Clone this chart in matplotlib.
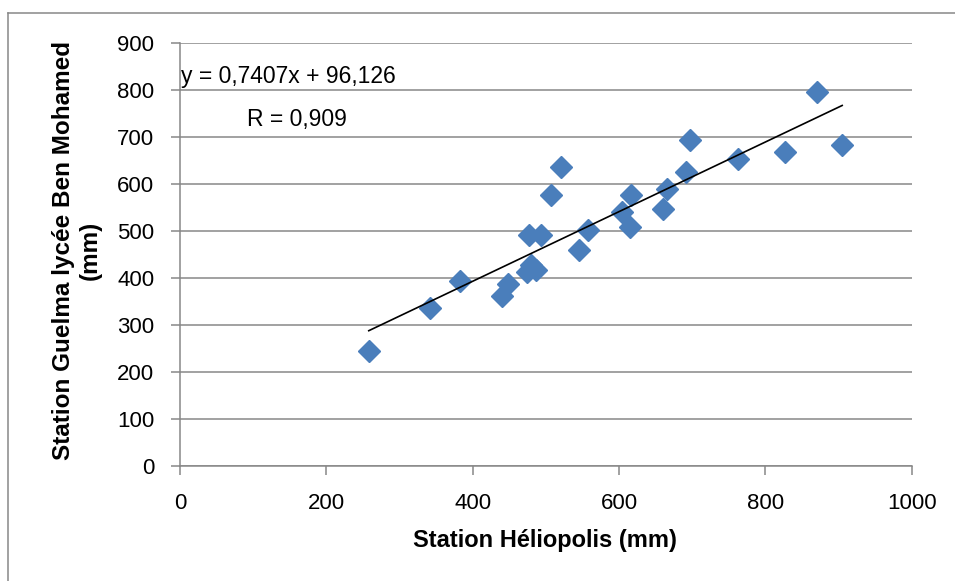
import numpy as np
import matplotlib.pyplot as plt
from matplotlib.lines import Line2D

plt.rcParams['font.family'] = ['Liberation Sans', 'DejaVu Sans']

# Annual rainfall (mm)
heliopolis = [258, 341, 382, 440, 448, 474, 480, 486, 477, 494, 507, 521, 545,
              558, 604, 615, 617, 660, 665, 692, 697, 763, 827, 871, 905]
guelma = [245, 336, 394, 361, 387, 413, 427, 416, 490, 490, 575, 636, 458,
          501, 540, 508, 575, 546, 589, 625, 693, 652, 668, 795, 682]

slope = 0.7407
intercept = 96.126
r_value = '0,909'

x_ticks = [0, 200, 400, 600, 800, 1000]
y_ticks = [0, 100, 200, 300, 400, 500, 600, 700, 800, 900]

W, H = 955, 581
fig = plt.figure(figsize=(W / 100, H / 100), dpi=100)
ax = fig.add_axes([180 / W, 1 - 465.7 / H, (911.7 - 180) / W, (465.7 - 42.7) / H])

grey = '#878787'

# gridlines
ax.yaxis.grid(True, color=grey, linewidth=1.1)
ax.set_axisbelow(True)

# data points
ax.plot(heliopolis, guelma, linestyle='none', marker='D', markersize=11,
        color='#4a7ebb', zorder=3)

# trend line
xs = np.array([min(heliopolis), max(heliopolis)])
ax.plot(xs, slope * xs + intercept, color='black', linewidth=1.2, zorder=4)

ax.set_xlim(0, 1000)
ax.set_ylim(0, 900)
ax.set_xticks(x_ticks)
ax.set_yticks(y_ticks)

for side in ['top', 'right']:
    ax.spines[side].set_visible(False)
for side in ['left', 'bottom']:
    ax.spines[side].set_color(grey)
    ax.spines[side].set_linewidth(1.1)

ax.tick_params(axis='both', direction='out', length=6.5, width=1.1,
               color=grey, labelsize=16)
ax.tick_params(axis='y', pad=12)
ax.tick_params(axis='x', pad=13)

# equation text
ax.text(2, 829, 'y = 0,7407x + 96,126', fontsize=16.5, va='center', ha='left')
ax.text(92, 736, 'R = ' + r_value, fontsize=16.5, va='center', ha='left')

# axis titles
fig.text(545 / W, 1 - 541 / H, 'Station Héliopolis (mm)', fontsize=17,
         fontweight='bold', ha='center', va='center')
fig.text(77 / W, 1 - 250 / H, 'Station Guelma lycée Ben Mohamed\n(mm)',
         fontsize=17.5, fontweight='bold', ha='center', va='center',
         rotation=90, multialignment='center', linespacing=1.2)

# outer chart frame
fig.add_artist(Line2D([7.5 / W, 7.5 / W], [0, 1 - 13 / H], color=grey,
                      linewidth=1.1, transform=fig.transFigure))
fig.add_artist(Line2D([7.5 / W, 1], [1 - 13 / H, 1 - 13 / H], color=grey,
                      linewidth=1.1, transform=fig.transFigure))

fig.savefig('out.png', dpi=100)
